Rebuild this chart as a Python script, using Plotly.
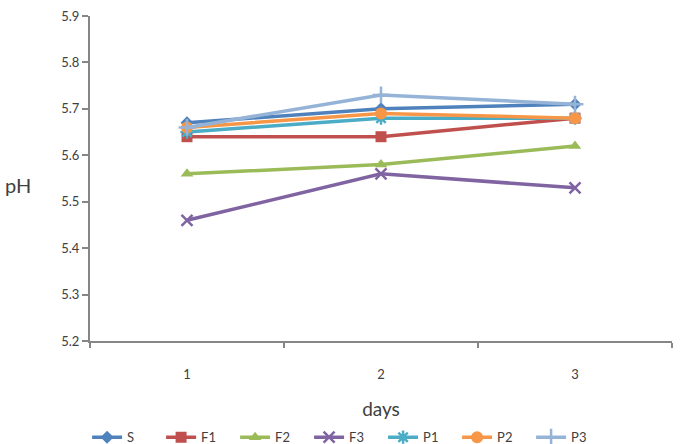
import plotly.graph_objects as go

days = ["1", "2", "3"]
series_names = ["S", "F1", "F2", "F3", "P1", "P2", "P3"]
S = [5.67, 5.70, 5.71]
F1 = [5.64, 5.64, 5.68]
F2 = [5.56, 5.58, 5.62]
F3 = [5.46, 5.56, 5.53]
P1 = [5.65, 5.68, 5.68]
P2 = [5.66, 5.69, 5.68]
P3 = [5.66, 5.73, 5.71]
values = [S, F1, F2, F3, P1, P2, P3]

colors = ["#4F81BD", "#C0504D", "#9BBB59", "#8064A2", "#4BACC6", "#F79646", "#95B3D7"]
symbols = ["diamond", "square", "triangle-up", "x-thin", "asterisk", "circle", "cross-thin"]
sizes = [10, 11, 11, 11, 11, 12, 12]

fig = go.Figure()
for name, vals, c, s, sz in zip(series_names, values, colors, symbols, sizes):
    thin = s.endswith("thin") or s == "asterisk"
    fig.add_trace(go.Scatter(
        x=days, y=vals, name=name, mode="lines+markers",
        line=dict(color=c, width=3.5),
        marker=dict(symbol=s, size=sz, color=c,
                    line=dict(color=c, width=2.5 if thin else 0)),
    ))

axis_col = "#868686"
fig.update_layout(
    width=687, height=444,
    margin=dict(l=90, r=15, t=16, b=103, autoexpand=False),
    paper_bgcolor="white", plot_bgcolor="white",
    font=dict(family="Lato, 'Open Sans', sans-serif", color="#404040", size=12),
    showlegend=True,
    legend=dict(orientation="h", x=-0.005, xanchor="left", y=-0.25, yanchor="top",
                font=dict(size=13, color="#404040"),
                entrywidth=29, entrywidthmode="pixels", itemwidth=30,
                traceorder="normal"),
    xaxis=dict(type="category", range=[-0.5, 2.5], showline=True, linecolor=axis_col,
               linewidth=2, ticks="outside", tickson="boundaries", ticklen=5,
               tickcolor=axis_col, tickwidth=2, showgrid=False, zeroline=False,
               ticklabelstandoff=20,
               tickfont=dict(size=13, color="#404040"),
               title=dict(text="days", font=dict(size=19, color="#404040"), standoff=22)),
    yaxis=dict(range=[5.2, 5.9], dtick=0.1, tickformat=".1f", showline=True,
               linecolor=axis_col, linewidth=2, ticks="outside", ticklen=6,
               tickcolor=axis_col, tickwidth=2, showgrid=False, zeroline=False,
               tickfont=dict(size=13, color="#404040")),
    annotations=[dict(text="pH", xref="paper", yref="paper", x=-0.124, y=0.48,
                      xanchor="center", yanchor="middle", showarrow=False,
                      font=dict(size=20, color="#404040"))],
)

fig.write_html("out.html")
